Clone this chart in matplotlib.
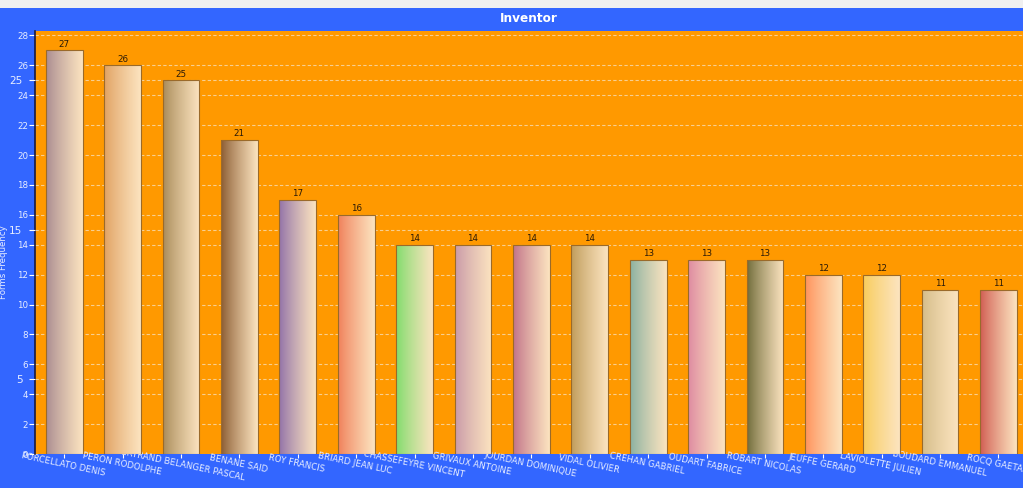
import numpy as np
import matplotlib
matplotlib.use("Agg")
import matplotlib.pyplot as plt
from matplotlib.colors import to_rgb
from matplotlib.patches import Rectangle

inventors = ["PORCELLATO DENIS", "PERON RODOLPHE", "BERTRAND BELANGER PASCAL",
             "BENANE SAID", "ROY FRANCIS", "BRIARD JEAN LUC",
             "CHASSEFEYRE VINCENT", "GRIVAUX ANTOINE", "JOURDAN DOMINIQUE",
             "VIDAL OLIVIER", "CREHAN GABRIEL", "OUDART FABRICE",
             "ROBART NICOLAS", "JEUFFE GERARD", "LAVIOLETTE JULIEN",
             "BOUDARD EMMANUEL", "ROCQ GAETAN"]
counts = [27, 26, 25, 21, 17, 16, 14, 14, 14, 14, 13, 13, 13, 12, 12, 11, 11]
bar_colors = ["#A88A90", "#E0A060", "#A88A58", "#8A5A30", "#9070A8", "#F07E58",
              "#7EDC6A", "#C898A8", "#C07088", "#BE9A58", "#88B0A0", "#DE88A0",
              "#6E6A38", "#FF9058", "#F8CC58", "#D4BC88", "#D05A50"]
major_ticks = list(range(0, 29, 2))
extra_ticks = [5, 15, 25]

plt.rcParams['font.family'] = ['DejaVu Sans']

W, H = 1023, 488
fig = plt.figure(figsize=(W / 100, H / 100), dpi=100)
fig.patch.set_facecolor('#3366FF')
fig.patches.append(Rectangle((0, 1 - 8 / H), 1, 8 / H, transform=fig.transFigure,
                             facecolor='#F0F0F0', edgecolor='none'))

left, right, top, bottom = 35, 1023, 31, 454
ax = fig.add_axes([left / W, (H - bottom) / H, (right - left) / W, (bottom - top) / H])
ax.set_facecolor('#FF9900')

x = np.arange(len(counts))
bars = ax.bar(x, counts, width=0.63, facecolor='none', edgecolor='#9A6A2A',
              linewidth=0.8, zorder=3)
end_col = np.array(to_rgb('#FCE4C0'))
t = np.linspace(0, 1, 256) ** 0.85
for patch, col in zip(bars.patches, bar_colors):
    c0 = np.array(to_rgb(col))
    img = (c0[None, :] * (1 - t[:, None]) + end_col[None, :] * t[:, None])[None, :, :]
    x0 = patch.get_x()
    w = patch.get_width()
    h = patch.get_height()
    im = ax.imshow(img, extent=[x0, x0 + w, 0, h], aspect='auto', zorder=2,
                   interpolation='bilinear')
    im.set_clip_path(patch)

for xi, v in zip(x, counts):
    ax.text(xi, v + 0.12, str(v), ha='center', va='bottom', fontsize=6.3,
            color='#2A1A08', zorder=4)

ax.set_xlim(-0.5, 16.42)
ax.set_ylim(0, 28.3)

ax.set_yticks(major_ticks)
ax.tick_params(axis='y', colors='white', labelsize=6.3, length=4, width=0.8, pad=1,
               labelcolor='#E8EEFF')
ax.set_xticks(x)
ax.set_xticklabels(inventors, rotation=-12, ha='center', va='top',
                   rotation_mode='anchor', fontsize=6.2, color='#E8EEFF')
ax.tick_params(axis='x', colors='white', length=3, width=0.8, pad=1,
               labelcolor='#E8EEFF')

for v in major_ticks + extra_ticks:
    ax.axhline(v, color='#F8CF90', lw=0.8, ls=(0, (3, 2)), zorder=1)

ax2 = ax.twinx()
ax2.set_ylim(ax.get_ylim())
ax2.yaxis.set_ticks_position('left')
ax2.yaxis.set_label_position('left')
ax2.set_yticks(extra_ticks)
ax2.tick_params(axis='y', colors='white', labelsize=7.5, length=4, width=0.8, pad=5,
                labelcolor='#E8EEFF')
for s in ax2.spines.values():
    s.set_visible(False)

for s in ['top', 'right', 'bottom']:
    ax.spines[s].set_visible(False)
ax.spines['left'].set_color('#1A1A40')
ax.spines['left'].set_linewidth(1.2)

fig.text((left + right) / 2 / W, 1 - 19 / H, 'Inventor', ha='center', va='center',
         fontsize=8.7, fontweight='bold', color='white')
fig.text(4 / W, 1 - 262 / H, 'Forms Frequency', rotation=90, ha='center', va='center',
         fontsize=6.2, color='#E8EEFF')

fig.savefig('out.png', dpi=100, facecolor=fig.get_facecolor())
